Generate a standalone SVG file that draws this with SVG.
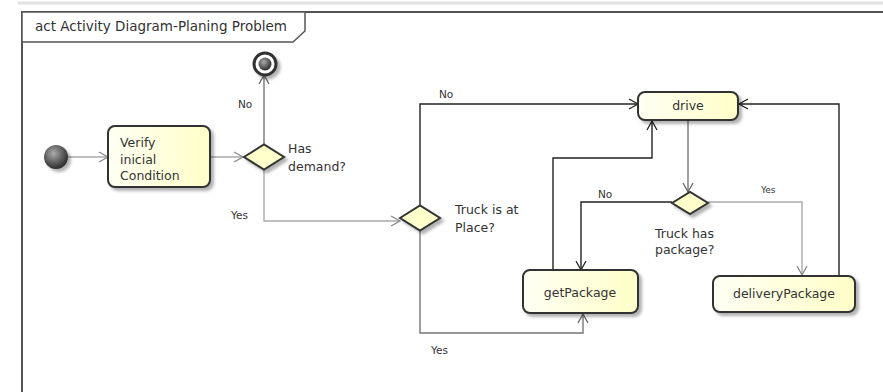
<svg xmlns="http://www.w3.org/2000/svg" width="883" height="392" viewBox="0 0 883 392">
  <style>
    text { font-family: "DejaVu Sans", "Liberation Sans", sans-serif; font-size: 12.5px; fill: #333; }
    .small { font-size: 10.5px; }
    .tiny { font-size: 9px; }
    .title { font-size: 13.5px; }
    .action { fill: url(#actFill); stroke: #333; stroke-width: 2; filter: url(#shadow); }
    .decision { fill: #ffffcc; stroke: #333; stroke-width: 2; filter: url(#shadow); }
    .flow { fill: none; stroke-width: 1.4; }
    .dark { stroke: #222; }
    .mid { stroke: #777; }
    .light { stroke: #aaa; }
    .frame { fill: none; stroke: #555; stroke-width: 2; }
  </style>
  <defs>
    <linearGradient id="actFill" x1="0" y1="0" x2="1" y2="0">
      <stop offset="0" stop-color="#fffff4"/>
      <stop offset="1" stop-color="#ffffc8"/>
    </linearGradient>
    <radialGradient id="ball" cx="0.4" cy="0.35" r="0.7">
      <stop offset="0" stop-color="#aaa"/>
      <stop offset="1" stop-color="#222"/>
    </radialGradient>
    <filter id="shadow" x="-20%" y="-20%" width="150%" height="160%">
      <feDropShadow dx="3" dy="3" stdDeviation="1.8" flood-color="#000" flood-opacity="0.3"/>
    </filter>
    <marker id="arrD" markerWidth="12" markerHeight="12" refX="10" refY="6" orient="auto" markerUnits="userSpaceOnUse">
      <path d="M1,1 L10,6 L1,11" fill="none" stroke="#222" stroke-width="1.3"/>
    </marker>
    <marker id="arrM" markerWidth="12" markerHeight="12" refX="10" refY="6" orient="auto" markerUnits="userSpaceOnUse">
      <path d="M1,1 L10,6 L1,11" fill="none" stroke="#666" stroke-width="1.3"/>
    </marker>
    <marker id="arrL" markerWidth="12" markerHeight="12" refX="10" refY="6" orient="auto" markerUnits="userSpaceOnUse">
      <path d="M1,1 L10,6 L1,11" fill="none" stroke="#888" stroke-width="1.3"/>
    </marker>
  </defs>

  <rect width="883" height="392" fill="#fff"/>
  <!-- window rule above the frame -->
  <line x1="18" y1="3" x2="883" y2="3" stroke="#e2e2e2" stroke-width="3"/>

  <!-- activity frame with name tab -->
  <g id="frame">
    <path class="frame" d="M22,392 V12 H883"/>
    <path d="M22,12 H305 V31 L293,42 H22 Z" fill="#fff" stroke="#555" stroke-width="1.5"/>
    <text x="35" y="31" class="title">act Activity Diagram-Planing Problem</text>
  </g>

  <!-- control flows -->
  <g id="connectors">
    <path class="flow light" d="M68,157 H108" marker-end="url(#arrL)"/>
    <path class="flow light" d="M210,157 H243" marker-end="url(#arrL)"/>
    <path class="flow mid" d="M264,145 V75" marker-end="url(#arrM)"/>
    <path class="flow light" d="M264,170 V221 H400" marker-end="url(#arrL)"/>
    <path class="flow dark" d="M420,206 V104 H638" marker-end="url(#arrD)"/>
    <path class="flow mid" d="M420,230 V333 H583 V314" marker-end="url(#arrM)"/>
    <path class="flow dark" d="M553,270 V158 H652 V121" marker-end="url(#arrD)"/>
    <path class="flow mid" d="M688,120 V192" marker-end="url(#arrM)"/>
    <path class="flow dark" d="M672,202 H581 V270" marker-end="url(#arrD)"/>
    <path class="flow light" d="M708,202 H802 V275" marker-end="url(#arrL)"/>
    <path class="flow dark" d="M839,276 V104 H739" marker-end="url(#arrD)"/>
    <text x="238" y="108" class="small">No</text>
    <text x="231" y="219" class="small">Yes</text>
    <text x="439" y="98" class="small">No</text>
    <text x="431" y="354" class="small">Yes</text>
    <text x="598" y="198" class="small">No</text>
    <text x="761" y="193" class="tiny">Yes</text>
  </g>

  <g id="start">
    <circle cx="56" cy="157" r="12" fill="url(#ball)" filter="url(#shadow)"/>
  </g>

  <g id="final">
    <circle cx="265" cy="64" r="11" fill="#fff" stroke="#333" stroke-width="3" filter="url(#shadow)"/>
    <circle cx="265" cy="64" r="6.5" fill="url(#ball)"/>
  </g>

  <g id="verify">
    <rect class="action" x="108" y="126" width="102" height="61" rx="7"/>
    <text x="120" y="147">Verify</text>
    <text x="120" y="164">inicial</text>
    <text x="120" y="180">Condition</text>
  </g>

  <g id="hasDemand">
    <path class="decision" d="M244,157 L264,144.5 L284,157 L264,169.5 Z"/>
    <text x="288" y="153">Has</text>
    <text x="288" y="171">demand?</text>
  </g>

  <g id="truckAtPlace">
    <path class="decision" d="M400,218 L420,205.5 L440,218 L420,230.5 Z"/>
    <text x="455" y="214">Truck is at</text>
    <text x="455" y="232">Place?</text>
  </g>

  <g id="drive">
    <rect class="action" x="638" y="92" width="100" height="28" rx="7"/>
    <text x="688" y="110" text-anchor="middle">drive</text>
  </g>

  <g id="truckHasPackage">
    <path class="decision" d="M672,203 L690,192 L708,203 L690,214 Z"/>
    <text x="655" y="238">Truck has</text>
    <text x="655" y="254">package?</text>
  </g>

  <g id="getPackage">
    <rect class="action" x="523" y="270" width="115" height="43" rx="7"/>
    <text x="580" y="297" text-anchor="middle">getPackage</text>
  </g>

  <g id="deliveryPackage">
    <rect class="action" x="713" y="276" width="142" height="36" rx="7"/>
    <text x="784" y="298" text-anchor="middle">deliveryPackage</text>
  </g>
</svg>
